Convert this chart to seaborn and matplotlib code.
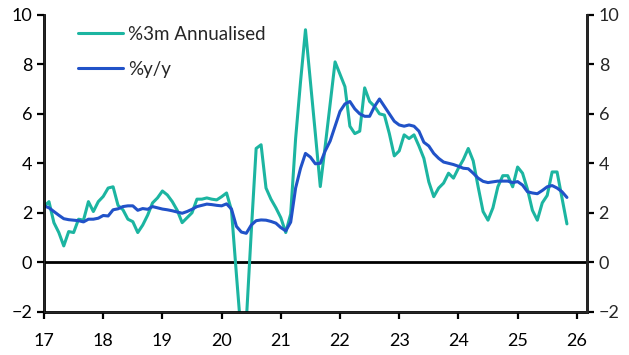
import numpy as np
import pandas as pd
import matplotlib
matplotlib.use("Agg")
import matplotlib.pyplot as plt
import seaborn as sns

# monthly, Jan 2017 - Nov 2025
start_year = 2017
ann3m = [2.25, 2.45, 1.6, 1.2, 0.66, 1.24, 1.2, 1.74, 1.7, 2.45, 2.05, 2.45,
         2.66, 3.0, 3.05, 2.3, 2.12, 1.74, 1.64, 1.2, 1.5, 1.9, 2.4, 2.6,
         2.88, 2.72, 2.45, 2.1, 1.6, 1.8, 2.0, 2.55, 2.55, 2.6, 2.55, 2.52,
         2.65, 2.8, 2.1, -0.5, -3.0, -2.4, 1.2, 4.6, 4.75, 3.0, 2.55, 2.2,
         1.8, 1.2, 1.95, 5.0, 7.3, 9.4, 7.3, 5.2, 3.06, 4.7, 6.4, 8.1,
         7.6, 7.1, 5.5, 5.2, 5.3, 7.05, 6.5, 6.3, 6.0, 5.95, 5.2, 4.3,
         4.5, 5.15, 5.0, 5.15, 4.7, 4.2, 3.25, 2.65, 3.0, 3.2, 3.6, 3.4,
         3.8, 4.15, 4.6, 4.1, 3.05, 2.05, 1.7, 2.2, 3.05, 3.5, 3.5, 3.05,
         3.85, 3.6, 2.95, 2.1, 1.7, 2.4, 2.7, 3.65, 3.65, 2.6, 1.55]
yoy = [2.28, 2.2, 2.05, 1.9, 1.76, 1.72, 1.7, 1.68, 1.63, 1.74, 1.74, 1.78,
       1.89, 1.87, 2.12, 2.16, 2.25, 2.28, 2.28, 2.1, 2.17, 2.14, 2.25, 2.2,
       2.15, 2.12, 2.08, 2.03, 1.98, 2.05, 2.14, 2.25, 2.3, 2.35, 2.33, 2.3,
       2.28, 2.36, 2.15, 1.45, 1.22, 1.17, 1.5, 1.68, 1.71, 1.7, 1.65, 1.58,
       1.4, 1.27, 1.62, 3.0, 3.8, 4.4, 4.25, 3.98, 4.0, 4.5, 4.9, 5.5,
       6.1, 6.4, 6.5, 6.2, 6.0, 5.9, 5.9, 6.3, 6.6, 6.3, 6.0, 5.7,
       5.55, 5.5, 5.55, 5.5, 5.3, 4.85, 4.7, 4.4, 4.2, 4.05, 4.0, 3.95,
       3.88, 3.8, 3.78, 3.6, 3.4, 3.27, 3.22, 3.25, 3.28, 3.28, 3.28, 3.22,
       3.26, 3.12, 2.85, 2.8, 2.77, 2.9, 3.05, 3.1, 3.0, 2.85, 2.62]
labels = ["%3m Annualised", "%y/y"]
colors = ["#1cb5a1", "#2152c8"]
year_ticks = list(range(2017, 2027))
y_ticks = [-2, 0, 2, 4, 6, 8, 10]

t = start_year + np.arange(len(yoy)) / 12
df = pd.DataFrame({"t": np.concatenate([t, t]),
                   "val": ann3m + yoy,
                   "series": [labels[0]] * len(ann3m) + [labels[1]] * len(yoy)})

sns.set_style("ticks")
plt.rcParams["font.family"] = ["Lato", "DejaVu Sans"]

fig = plt.figure(figsize=(6.29, 3.55), dpi=100)
ax = fig.add_axes([0.07, 0.122, 0.863, 0.836])
sns.lineplot(data=df, x="t", y="val", hue="series", palette=colors,
             linewidth=2.2, ax=ax)
ax.axhline(0, color="black", linewidth=2, zorder=1)

ax.set_xlim(2017, 2026.17)
ax.set_ylim(-2, 10)
ax.set_xticks(year_ticks)
ax.set_xticklabels([str(y)[2:] for y in year_ticks])
ax.set_yticks(y_ticks)
ax.set_xlabel("")
ax.set_ylabel("")
ax.spines["top"].set_visible(False)
for s in ["left", "right", "bottom"]:
    ax.spines[s].set_linewidth(2)
    ax.spines[s].set_color("black")
ax.tick_params(axis="both", labelsize=13, width=1.6, length=5, color="black", labelcolor="black")
ax.tick_params(axis="x", pad=10)

ax2 = ax.twinx()
ax2.set_ylim(-2, 10)
ax2.set_yticks(y_ticks)
ax2.spines["top"].set_visible(False)
ax2.spines["right"].set_linewidth(2)
ax2.tick_params(axis="y", labelsize=13, width=1.6, length=5, color="black")

ax.legend(frameon=False, loc="upper left", bbox_to_anchor=(0.045, 0.995),
          borderpad=0, handlelength=2.4, handletextpad=0.3, labelspacing=0.95,
          fontsize=13.5)

fig.savefig("out.png", dpi=100)
